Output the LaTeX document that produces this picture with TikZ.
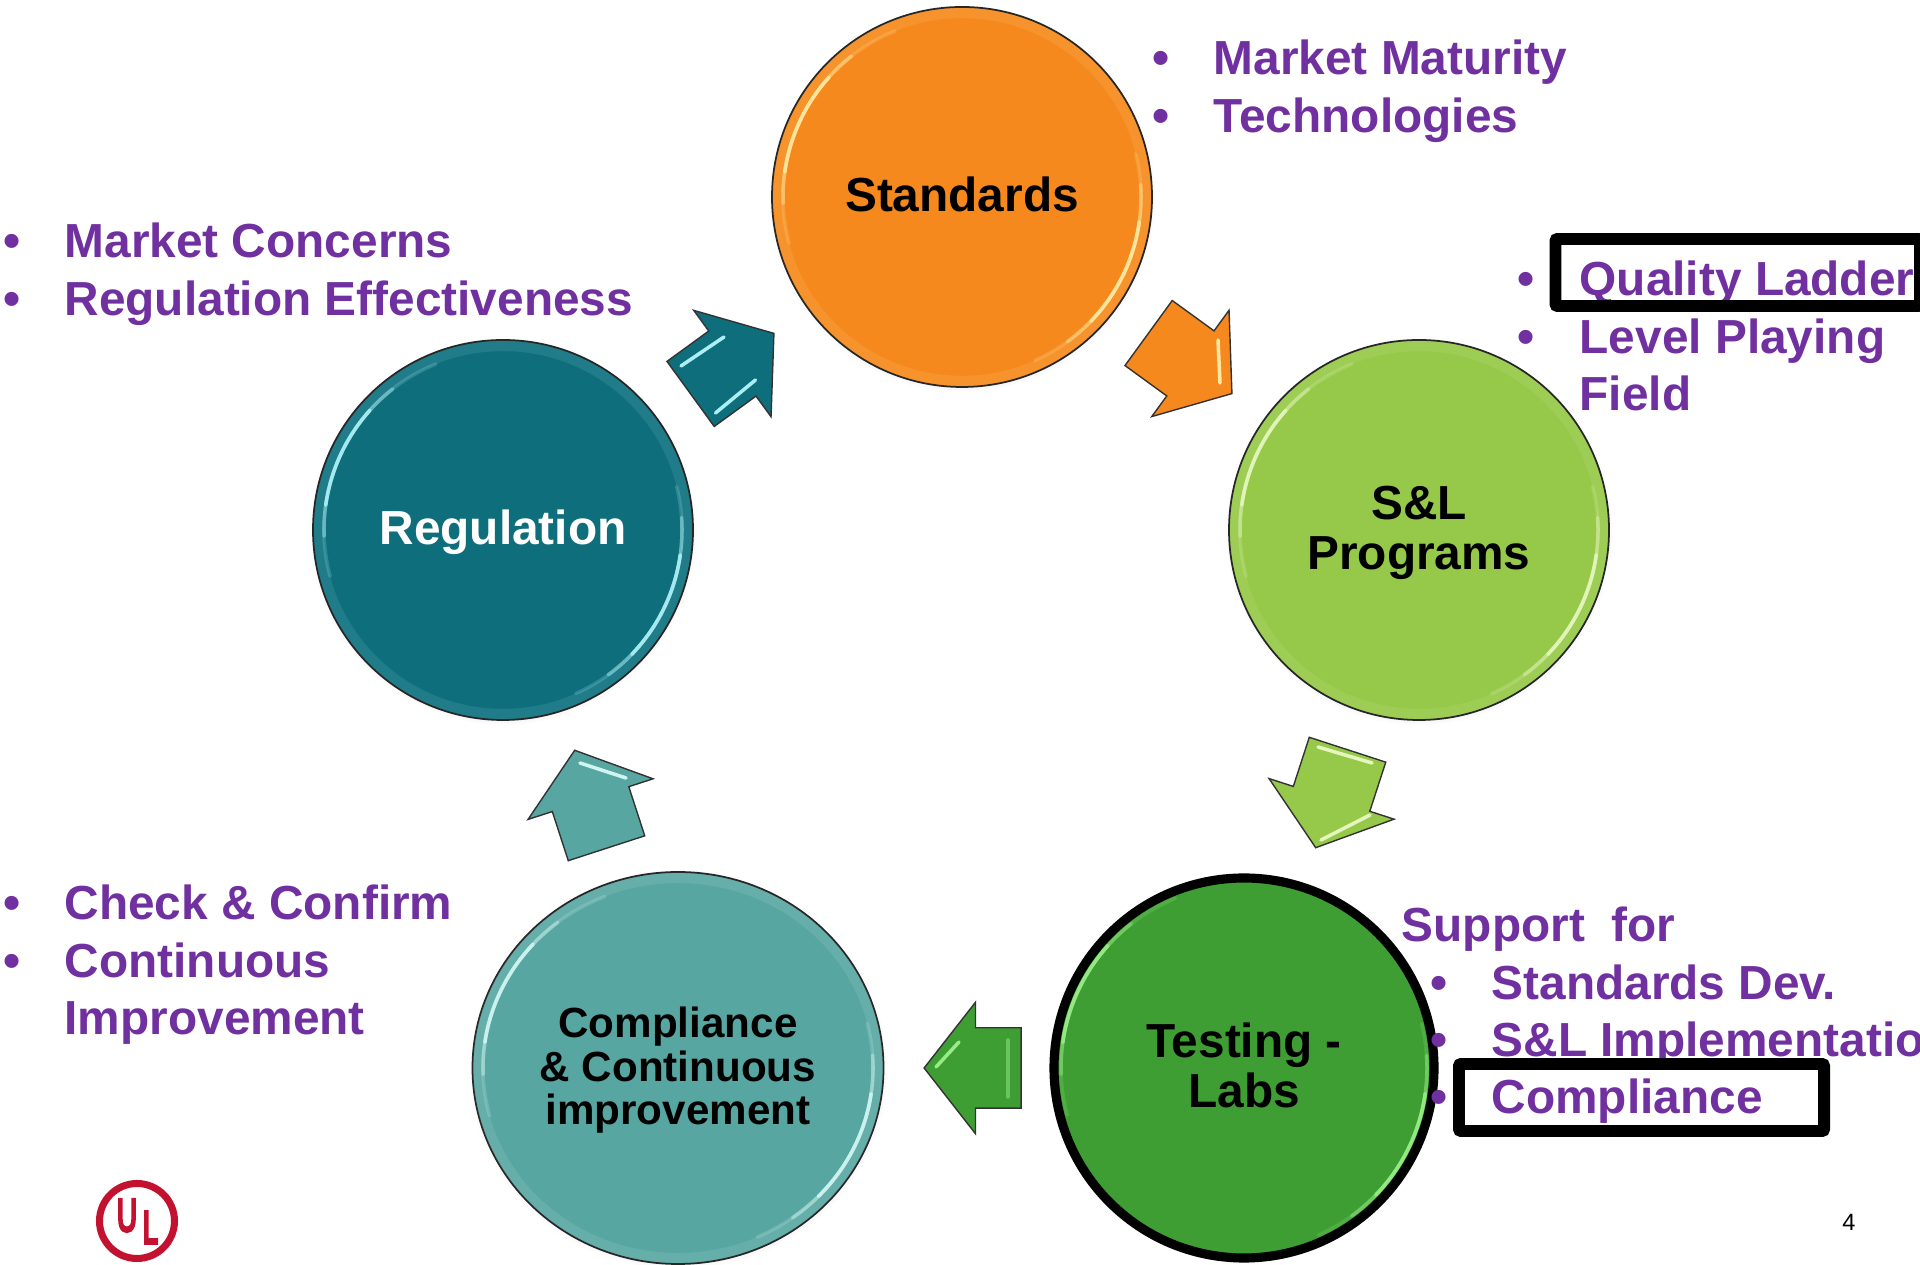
\documentclass[tikz,border=0pt]{standalone}
\usepackage{fontspec}
\setmainfont{Liberation Sans}
\newfontfamily\logofont[FakeBold=7]{Liberation Sans}
\usetikzlibrary{calc,shapes.geometric,shapes.arrows,shadows}

\definecolor{orangeFill}{HTML}{F6891E}
\definecolor{orangeGlint}{HTML}{FFE9A0}
\definecolor{limeFill}{HTML}{96C94A}
\definecolor{limeGlint}{HTML}{E4F6BE}
\definecolor{forestFill}{HTML}{3F9E33}
\definecolor{forestGlint}{HTML}{98EC86}
\definecolor{sageFill}{HTML}{58A6A1}
\definecolor{sageGlint}{HTML}{CFF5F1}
\definecolor{petrolFill}{HTML}{0F6E7C}
\definecolor{petrolGlint}{HTML}{ABEFF5}
\definecolor{listPurple}{HTML}{7030A0}
\definecolor{logoRed}{HTML}{C3122F}

\tikzset{
  topic/.style={circle, draw=black!85, line width=.5pt, minimum size=3.8cm, inner sep=0pt, align=center,
    circular drop shadow={shadow xshift=0pt, shadow yshift=-.4pt, shadow scale=1.02, opacity=.35},
    font=\bfseries\fontsize{13.6}{14.1}\selectfont},
  blockarrow/.style={single arrow, draw=black!80, line width=.4pt, minimum height=1.03cm, xshift=-.16cm,
    single arrow head extend=.255cm, single arrow tip angle=104, inner xsep=0pt, inner ysep=.395cm},
  listline/.style={anchor=base west, inner sep=0pt, text=listPurple, font=\bfseries\fontsize{13.6}{14}\selectfont},
  listdot/.style={anchor=base, inner sep=0pt, text=listPurple, font=\bfseries\fontsize{13.9}{14}\selectfont},
  markbox/.style={draw=black, line width=3.4pt, rounded corners=.6pt},
  arrowglint/.style={line width=1pt, line cap=round}
}

% soft band inside the rim of a topic
\newcommand{\rimband}[4]{
  \draw [#4, line width=2.9pt, opacity=.11] ($(#1)+(0:#2+.05 and #3+.05)$) arc (0:360:#2+.05 and #3+.05);
}
% bright strips along the rim of a topic
\newcommand{\rimglint}[4]{
  \draw [#4, line width=1pt, opacity=.2, line cap=round] ($(#1)+(195:#2 and #3)$) arc (195:112:#2 and #3);
  \draw [#4, line width=1pt, opacity=.45, line cap=round] ($(#1)+(182:#2 and #3)$) arc (182:128:#2 and #3);
  \draw [#4, line width=1pt, opacity=.9, line cap=round] ($(#1)+(172:#2 and #3)$) arc (172:138:#2 and #3);
  \draw [#4, line width=1pt, opacity=.2, line cap=round] ($(#1)+(14:#2 and #3)$) arc (14:-66:#2 and #3);
  \draw [#4, line width=1pt, opacity=.45, line cap=round] ($(#1)+(4:#2 and #3)$) arc (4:-54:#2 and #3);
  \draw [#4, line width=1pt, opacity=.9, line cap=round] ($(#1)+(-8:#2 and #3)$) arc (-8:-44:#2 and #3);
}

\begin{document}
\begin{tikzpicture}

\useasboundingbox (0,0) rectangle (19.2,12.65);

% Topics
\draw (9.62,10.68) node [topic, fill=orangeFill, text depth=.06cm] (standards) {Standards};
\draw (14.19,7.35) node [topic, fill=limeFill, text depth=.04cm] (programs) {S\&L\\Programs};
\draw (5.03,7.35) node [topic, fill=petrolFill, text=white, text depth=.05cm] (regulation) {Regulation};
\draw (12.44,1.97) node [topic, fill=forestFill, draw=black, line width=2.6pt, text depth=.06cm] (testing) {Testing -\\Labs};
\draw (6.78,1.97) node [topic, ellipse, minimum width=4.11cm, minimum height=3.92cm, fill=sageFill, text depth=.045cm,
  font=\bfseries\fontsize{12}{12.5}\selectfont] (compliance) {Compliance\\\& Continuous\\improvement};

\rimband{standards}{1.79}{1.79}{orangeGlint}
\rimband{programs}{1.79}{1.79}{limeGlint}
\rimband{regulation}{1.79}{1.79}{petrolGlint}
\rimband{compliance}{1.95}{1.85}{sageGlint}

\rimglint{standards}{1.79}{1.79}{orangeGlint}
\rimglint{programs}{1.79}{1.79}{limeGlint}
\rimglint{regulation}{1.79}{1.79}{petrolGlint}
\rimglint{testing}{1.83}{1.83}{forestGlint}
\rimglint{compliance}{1.95}{1.85}{sageGlint}

% Arrows
\draw ($(standards)!0.5!(programs)$) node [rotate=-36, blockarrow, fill=orangeFill] (standardsToPrograms) {};
\draw ($(programs)!0.5!(testing)$) node [rotate=-108, blockarrow, fill=limeFill] (programsToTesting) {};
\draw ($(testing)!0.48!(compliance)$) node [rotate=180, blockarrow, minimum height=.97cm, fill=forestFill] (testingToCompliance) {};
\draw ($(compliance)!0.5!(regulation)$) node [rotate=108, blockarrow, fill=sageFill] (complianceToRegulation) {};
\draw ($(regulation)!0.5!(standards)$) node [rotate=36, blockarrow, fill=petrolFill] (regulationToStandards) {};

\draw [arrowglint, orangeGlint] (12.18,9.25) -- (12.20,8.82);
\draw [arrowglint, limeGlint] (13.18,5.18) -- (13.72,5.02);
\draw [arrowglint, limeGlint] (13.21,4.25) -- (13.70,4.50);
\draw [arrowglint, forestGlint] (9.59,2.23) -- (9.36,1.98);
\draw [arrowglint, forestGlint, opacity=.5] (10.08,2.25) -- (10.08,1.68);
\draw [arrowglint, sageGlint] (5.80,5.02) -- (6.26,4.87);
\draw [arrowglint, petrolGlint] (6.81,8.99) -- (7.24,9.28);
\draw [arrowglint, petrolGlint] (7.155,8.52) -- (7.555,8.85);

% Lists
\draw (11.61,11.90) node [listdot] (dotMaturity) {•};
\draw (12.13,11.90) node [listline] (maturity) {Market Maturity};
\draw (11.61,11.32) node [listdot] (dotTechnologies) {•};
\draw (12.13,11.32) node [listline] (technologies) {Technologies};

\draw (0.12,10.07) node [listdot] (dotConcerns) {•};
\draw (0.64,10.07) node [listline] (concerns) {Market Concerns};
\draw (0.12,9.49) node [listdot] (dotEffectiveness) {•};
\draw (0.64,9.49) node [listline] (effectiveness) {Regulation Effectiveness};

\draw (15.26,9.69) node [listdot] (dotLadder) {•};
\draw (15.79,9.69) node [listline] (ladder) {Quality Ladder};
\draw (15.26,9.11) node [listdot] (dotPlaying) {•};
\draw (15.79,9.11) node [listline] (playing) {Level Playing};
\draw (15.79,8.54) node [listline] (field) {Field};

\draw (0.12,3.45) node [listdot] (dotConfirm) {•};
\draw (0.64,3.45) node [listline] (confirm) {Check \& Confirm};
\draw (0.12,2.87) node [listdot] (dotContinuous) {•};
\draw (0.64,2.87) node [listline] (continuous) {Continuous};
\draw (0.64,2.30) node [listline] (improvement) {Improvement};

\draw (14.01,3.23) node [listline] (support) {Support\ \ for};
\draw (14.39,2.65) node [listdot] (dotDev) {•};
\draw (14.91,2.65) node [listline] (dev) {Standards Dev.};
\draw (14.39,2.08) node [listdot] (dotImplementation) {•};
\draw (14.91,2.08) node [listline] (implementation) {S\&L Implementation};
\draw (14.39,1.51) node [listdot] (dotCompliance) {•};
\draw (14.91,1.51) node [listline] (complianceItem) {Compliance};

% Marks
\draw [markbox] (15.555,10.26) rectangle (19.20,9.59);
\draw [markbox] (14.59,2.01) rectangle (18.24,1.34);

% Logo
\begin{scope}
\clip (0.5,0) rectangle (1.78,1);
\draw (1.37,0.44) node [circle, draw=logoRed, line width=2pt, minimum size=.75cm, inner sep=0pt] (logoRing) {};
\end{scope}
\draw (1.27,0.495) node [xscale=.6, text=logoRed, font=\logofont\fontsize{13.1}{14}\selectfont, inner sep=0pt] (logoU) {U};
\draw (1.505,0.375) node [xscale=.6, text=logoRed, font=\logofont\fontsize{13.1}{14}\selectfont, inner sep=0pt] (logoL) {L};

\draw (18.49,0.43) node [font=\fontsize{6.7}{8}\selectfont, inner sep=0pt] (pageNumber) {4};

\end{tikzpicture}
\end{document}
